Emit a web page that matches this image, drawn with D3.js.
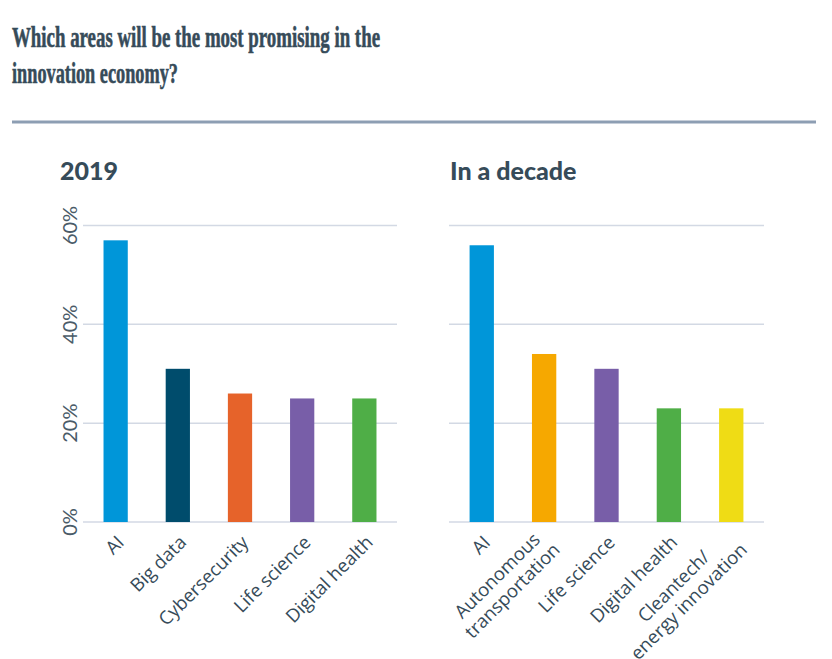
<!DOCTYPE html>
<html>
<head>
<meta charset="utf-8">
<script src="https://cdn.jsdelivr.net/npm/d3@7"></script>
<style>
  body { margin: 0; background: #fff; }
  svg { display: block; }
</style>
</head>
<body>
<div id="chart"></div>
<script>
// ---- data ----
const titleLines = ["Which areas will be the most promising in the", "innovation economy?"];
const panelTitles = ["2019", "In a decade"];
const areas2019 = ["AI", "Big data", "Cybersecurity", "Life science", "Digital health"];
const values2019 = [57, 31, 26, 25, 25];
const colors2019 = ["#0096d9", "#004c6c", "#e6632a", "#785ea8", "#4fae47"];
const areasDecade = ["AI", "Autonomous\ntransportation", "Life science", "Digital health", "Cleantech/\nenergy innovation"];
const valuesDecade = [56, 34, 31, 23, 23];
const colorsDecade = ["#0096d9", "#f6a800", "#785ea8", "#4fae47", "#efdc15"];
const yTicks = [0, 20, 40, 60];

const width = 832;
const height = 659;
const textColor = "#364b59";

const svg = d3.select("#chart")
  .append("svg")
  .attr("width", width)
  .attr("height", height);

// ========== Title ==========
const titleWidths = [368, 166];
svg.selectAll("text.title")
  .data(titleLines)
  .enter()
  .append("text")
  .attr("class", "title")
  .attr("x", 12)
  .attr("y", (_, i) => 47 + i * 36)
  .attr("textLength", (_, i) => titleWidths[i])
  .attr("lengthAdjust", "spacingAndGlyphs")
  .style("font-family", "'Liberation Serif', serif")
  .style("font-weight", "bold")
  .style("font-size", "30px")
  .style("fill", textColor)
  .style("stroke", textColor)
  .style("stroke-width", "0.6px")
  .text(d => d);

svg.append("line")
  .attr("x1", 12).attr("x2", 816)
  .attr("y1", 122).attr("y2", 122)
  .attr("stroke", "#8d9eb3")
  .attr("stroke-width", 3);

// ========== Panels ==========
const y = d3.scaleLinear()
  .domain([0, 60])
  .range([522, 225.5]);

function panel(x0, x1, titleX, titleText, cats, vals, cols, showY) {
  const g = svg.append("g");

  g.append("text")
    .attr("x", titleX)
    .attr("y", 180)
    .style("font-family", "Lato, sans-serif")
    .style("font-weight", "900")
    .style("font-size", "25px")
    .style("fill", textColor)
    .text(titleText);

  const x = d3.scaleBand()
    .domain(cats)
    .range([x0, x1])
    .paddingInner(0.61)
    .paddingOuter(0.33);

  g.selectAll("line.grid")
    .data(yTicks)
    .enter()
    .append("line")
    .attr("class", "grid")
    .attr("x1", x0).attr("x2", x1)
    .attr("y1", d => y(d)).attr("y2", d => y(d))
    .attr("stroke", "#d3d9e4")
    .attr("stroke-width", 1.5);

  if (showY) {
    g.selectAll("text.ytick")
      .data(yTicks)
      .enter()
      .append("text")
      .attr("class", "ytick")
      .attr("transform", d => `translate(77,${y(d)}) rotate(-90)`)
      .attr("text-anchor", "middle")
      .style("font-family", "Lato, sans-serif")
      .style("font-size", "20px")
      .style("fill", "#4a5b68")
      .text(d => d + "%");
  }

  g.selectAll("rect.bar")
    .data(vals)
    .enter()
    .append("rect")
    .attr("class", "bar")
    .attr("x", (_, i) => x(cats[i]))
    .attr("y", d => y(d))
    .attr("width", x.bandwidth())
    .attr("height", d => y(0) - y(d))
    .attr("fill", (_, i) => cols[i]);

  const labels = g.selectAll("text.xlab")
    .data(cats)
    .enter()
    .append("text")
    .attr("class", "xlab")
    .attr("transform", d => `translate(${x(d) + x.bandwidth() / 2 + 5},${y(0) + 17}) rotate(-45)`)
    .attr("text-anchor", "end")
    .style("font-family", "'Open Sans', sans-serif")
    .style("font-size", "18.5px")
    .style("fill", textColor);

  // multi-line labels: lines centred on each other, block right-aligned to the tick
  labels.each(function(d) {
    const lines = d.split("\n");
    const t = d3.select(this);
    const spans = t.selectAll("tspan")
      .data(lines)
      .enter()
      .append("tspan")
      .attr("x", 0)
      .attr("dy", (_, i) => i === 0 ? `${0.35 - (lines.length - 1) * 0.59}em` : "1.15em")
      .text(l => l);
    if (lines.length > 1) {
      const w = d3.max(spans.nodes(), n => n.getComputedTextLength());
      t.attr("text-anchor", "middle");
      spans.attr("x", -w / 2);
    }
  });
}

panel(83, 397, 60, panelTitles[0], areas2019, values2019, colors2019, true);
panel(449, 764, 450, panelTitles[1], areasDecade, valuesDecade, colorsDecade, false);
</script>
</body>
</html>
